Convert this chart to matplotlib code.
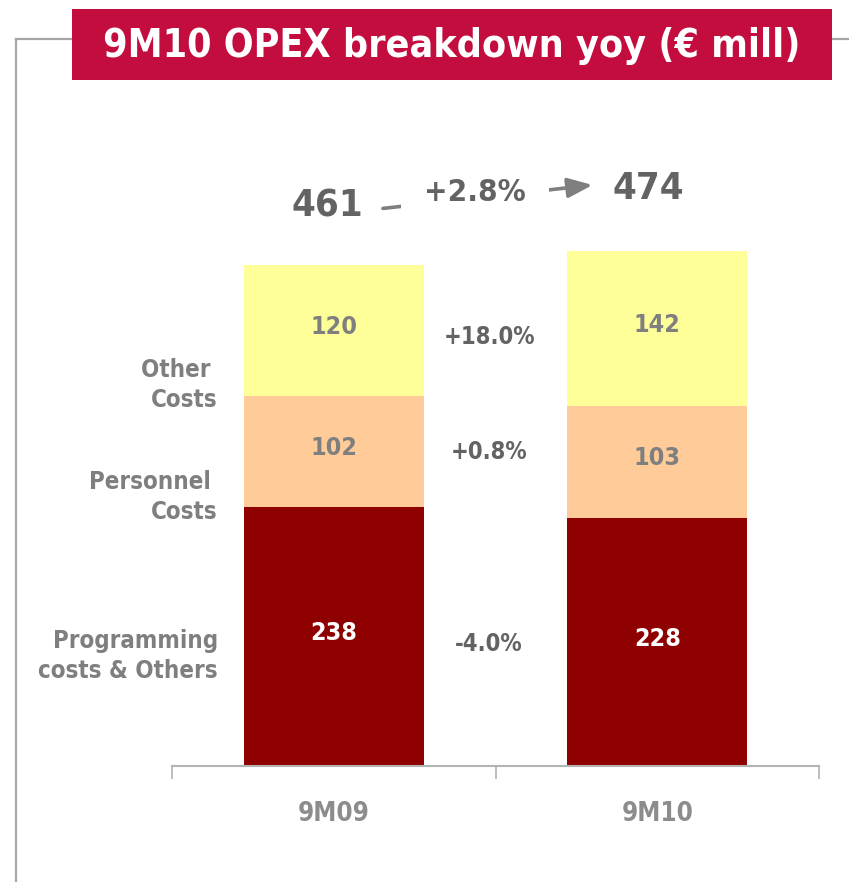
import matplotlib
matplotlib.use("Agg")
import matplotlib.pyplot as plt
from matplotlib.patches import Rectangle
from matplotlib.lines import Line2D

# ---------------- data ----------------
periods = ["9M09", "9M10"]
categories = ["Programming\ncosts & Others", "Personnel \nCosts", "Other \nCosts"]
programming = [238, 228]
personnel = [102, 103]
other = [120, 142]
totals = [461, 474]
total_change = "+2.8%"
category_changes = ["-4.0%", "+0.8%", "+18.0%"]
title = "9M10 OPEX breakdown yoy (€ mill)"

# ---------------- style ----------------
W, H = 849, 882
FAM = ["DejaVu Sans"]
plt.rcParams["font.family"] = FAM
seg_colors = ["#8F0000", "#FFCC99", "#FFFF99"]
seg_text_colors = ["white", "#7F7F7F", "#7F7F7F"]
gray_txt = "#7F7F7F"
dark_txt = "#636363"
frame_col = "#A6A6A6"
COND = "condensed"

fig = plt.figure(figsize=(W / 100, H / 100), dpi=100)

def fx(px):
    return px / W

def fy(py):
    return 1 - py / H

# outer frame lines
fig.add_artist(Line2D([fx(16), fx(16)], [fy(39), fy(882)], color=frame_col, lw=1.6,
                      transform=fig.transFigure))
fig.add_artist(Line2D([fx(16), fx(80)], [fy(39), fy(39)], color=frame_col, lw=1.6,
                      transform=fig.transFigure))
fig.add_artist(Line2D([fx(820), fx(849)], [fy(39), fy(39)], color=frame_col, lw=1.6,
                      transform=fig.transFigure))

# title box
fig.add_artist(Rectangle((fx(72), fy(80)), fx(760), 71 / H, transform=fig.transFigure,
                         facecolor="#C20D3E", edgecolor="none", zorder=5))
fig.text(fx(452), fy(46), title, color="white", fontsize=28.2, fontweight="bold",
         fontstretch=COND, ha="center", va="center", zorder=6)

# main axes
base_px, top_px = 766, 100
px_per_unit = 1.089
ax = fig.add_axes([fx(172), fy(base_px), fx(819 - 172), (base_px - top_px) / H])
ax.set_xlim(-0.5, 1.5)
ax.set_ylim(0, (base_px - top_px) / px_per_unit)

x = [0, 1]
width = 0.556
series = [programming, personnel, other]
bottoms = [0, 0]
for vals, col, tcol in zip(series, seg_colors, seg_text_colors):
    ax.bar(x, vals, width=width, bottom=bottoms, color=col, edgecolor="none", zorder=2)
    for xi, v, b in zip(x, vals, bottoms):
        ax.text(xi, b + v / 2 + 3, f"{v}", ha="center", va="center", color=tcol,
                fontsize=18, fontweight="bold", fontstretch=COND, zorder=3)
    bottoms = [b + v for b, v in zip(bottoms, vals)]

# change labels between bars
change_y = [112, 288, 394]
for lbl, yy in zip(category_changes, change_y):
    ax.text(0.48, yy, lbl, ha="center", va="center", color=dark_txt, fontsize=17,
            fontweight="bold", fontstretch=COND)

# category labels on the left
cat_y = [101, 247, 350]
for lbl, yy in zip(categories, cat_y):
    ax.text(-0.358, yy, lbl, ha="right", va="center", color=gray_txt, fontsize=17.3,
            fontweight="bold", fontstretch=COND, linespacing=1.3, zorder=4)

# totals and arrow
ax.text(-0.021, totals[0] + 53, f"{totals[0]}", ha="center", va="center",
        color=dark_txt, fontsize=27.5, fontweight="bold", fontstretch=COND)
ax.text(0.971, totals[1] + 56, f"{totals[1]}", ha="center", va="center",
        color=dark_txt, fontsize=27.5, fontweight="bold", fontstretch=COND)
ax.annotate("", xy=(0.80, 533.5), xytext=(0.152, 512),
            arrowprops=dict(arrowstyle="-|>,head_length=1.5,head_width=0.6",
                            color="#7F7F7F", lw=2.6, shrinkA=0, shrinkB=0), zorder=3)
ax.text(0.437, 527, total_change, ha="center", va="center", color=dark_txt,
        fontsize=22.5, fontweight="bold", fontstretch=COND, zorder=4,
        bbox=dict(boxstyle="square,pad=0.75", facecolor="white", edgecolor="none"))

# axes styling
for s in ["left", "right", "top"]:
    ax.spines[s].set_visible(False)
ax.spines["bottom"].set_color("#B3B3B3")
ax.spines["bottom"].set_linewidth(1.5)
ax.set_yticks([])
ax.set_xticks([-0.5, 0.5, 1.5])
ax.set_xticklabels([])
ax.tick_params(axis="x", which="major", length=9, width=1.2, color="#B3B3B3", direction="out")
ax.set_xticks(x, minor=True)
ax.set_xticklabels(periods, minor=True)
ax.tick_params(axis="x", which="minor", length=0, pad=25, labelcolor="#8C8C8C",
               labelsize=18.6)
for t in ax.get_xticklabels(minor=True):
    t.set_fontweight("bold")
    t.set_fontstretch(COND)

fig.savefig("out.png", dpi=100, facecolor="white")
